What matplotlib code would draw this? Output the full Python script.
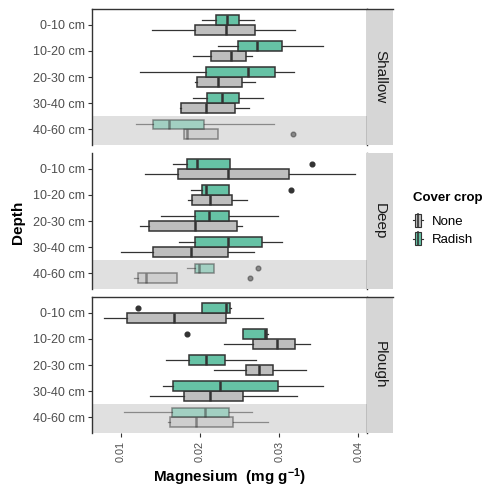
import matplotlib
matplotlib.use('Agg')
import matplotlib.pyplot as plt
from matplotlib.patches import Rectangle
from matplotlib.lines import Line2D
from matplotlib.legend_handler import HandlerBase

plt.rcParams['font.family'] = ['Liberation Sans', 'DejaVu Sans']
plt.rcParams['mathtext.default'] = 'regular'

# ---------------- data ----------------
depths = ['0-10 cm', '10-20 cm', '20-30 cm', '30-40 cm', '40-60 cm']
systems = ['Shallow', 'Deep', 'Plough']
covers = ['None', 'Radish']
x_ticks = [0.01, 0.02, 0.03, 0.04]
x_tick_labels = ['0.01', '0.02', '0.03', '0.04']

# five-number summaries per depth: [whisker low, Q1, median, Q3, whisker high]
shallow_none = [[0.0139, 0.0194, 0.0233, 0.0270, 0.0320],
                [0.0191, 0.0214, 0.0239, 0.0258, 0.0265],
                [0.0194, 0.0196, 0.0223, 0.0253, 0.0269],
                [0.0175, 0.0176, 0.0207, 0.0244, 0.0262],
                [0.0180, 0.0180, 0.0183, 0.0222, 0.0222]]
shallow_radish = [[0.0202, 0.0220, 0.0234, 0.0249, 0.0268],
                  [0.0222, 0.0248, 0.0272, 0.0304, 0.0355],
                  [0.0124, 0.0207, 0.0261, 0.0295, 0.0319],
                  [0.0191, 0.0209, 0.0228, 0.0249, 0.0280],
                  [0.0119, 0.0140, 0.0161, 0.0205, 0.0293]]
deep_none = [[0.0130, 0.0172, 0.0235, 0.0312, 0.0396],
             [0.0185, 0.0190, 0.0213, 0.0240, 0.0259],
             [0.0124, 0.0136, 0.0193, 0.0247, 0.0253],
             [0.0100, 0.0140, 0.0188, 0.0235, 0.0268],
             [0.0116, 0.0121, 0.0131, 0.0171, 0.0171]]
deep_radish = [[0.0166, 0.0184, 0.0196, 0.0238, 0.0238],
               [0.0189, 0.0202, 0.0207, 0.0236, 0.0236],
               [0.0150, 0.0193, 0.0211, 0.0236, 0.0299],
               [0.0173, 0.0194, 0.0235, 0.0278, 0.0304],
               [0.0184, 0.0194, 0.0199, 0.0218, 0.0218]]
plough_none = [[0.0079, 0.0108, 0.0167, 0.0233, 0.0279],
               [0.0230, 0.0267, 0.0297, 0.0320, 0.0339],
               [0.0217, 0.0258, 0.0275, 0.0292, 0.0334],
               [0.0137, 0.0180, 0.0212, 0.0254, 0.0322],
               [0.0159, 0.0162, 0.0195, 0.0241, 0.0286]]
plough_radish = [[0.0203, 0.0203, 0.0233, 0.0238, 0.0239],
                 [0.0254, 0.0254, 0.0282, 0.0285, 0.0286],
                 [0.0157, 0.0186, 0.0207, 0.0231, 0.0271],
                 [0.0153, 0.0166, 0.0225, 0.0298, 0.0356],
                 [0.0104, 0.0164, 0.0206, 0.0236, 0.0265]]

# outliers: (system, cover, depth, value)
outlier_system = ['Shallow', 'Deep', 'Deep', 'Deep', 'Deep', 'Plough', 'Plough']
outlier_cover = ['None', 'Radish', 'Radish', 'Radish', 'None', 'Radish', 'Radish']
outlier_depth = ['40-60 cm', '0-10 cm', '10-20 cm', '40-60 cm', '40-60 cm', '0-10 cm', '10-20 cm']
outlier_value = [0.0318, 0.0342, 0.0315, 0.0273, 0.0263, 0.0122, 0.0183]

summaries = {
    ('Shallow', 'None'): shallow_none, ('Shallow', 'Radish'): shallow_radish,
    ('Deep', 'None'): deep_none, ('Deep', 'Radish'): deep_radish,
    ('Plough', 'None'): plough_none, ('Plough', 'Radish'): plough_radish,
}

# ---------------- styling ----------------
fill_colors = {'None': '#BEBEBE', 'Radish': '#66C2A5'}
offsets = {'Radish': -0.1875, 'None': 0.1875}
edge = '#333333'
highlight_depth = '40-60 cm'

W, H = 489, 491
fig = plt.figure(figsize=(W / 100, H / 100), dpi=100)

panel_left, panel_right = 92, 367
strip_w = 26
panel_tops = [9, 153, 297]
panel_h = 136

for si, system in enumerate(systems):
    top = panel_tops[si]
    ax = fig.add_axes([panel_left / W, 1 - (top + panel_h) / H,
                       (panel_right - panel_left) / W, panel_h / H])
    hi = depths.index(highlight_depth) + 1
    ax.axhspan(hi - 0.5, len(depths) + 0.6, color='#E0E0E0', zorder=0, lw=0)

    for cover in covers:
        summ = summaries[(system, cover)]
        for di, dname in enumerate(depths):
            lo, q1, med, q3, hiw = summ[di]
            fl = [v for s, c, d, v in zip(outlier_system, outlier_cover,
                                          outlier_depth, outlier_value)
                  if s == system and c == cover and d == dname]
            stat = dict(whislo=lo, q1=q1, med=med, q3=q3, whishi=hiw, fliers=fl)
            alpha = 0.5 if dname == highlight_depth else 1.0
            ax.bxp([stat], positions=[di + 1 + offsets[cover]], widths=0.375,
                   orientation='horizontal', patch_artist=True, showcaps=False,
                   boxprops=dict(facecolor=fill_colors[cover], edgecolor=edge,
                                 linewidth=1.1, alpha=alpha),
                   medianprops=dict(color=edge, linewidth=1.8, alpha=alpha),
                   whiskerprops=dict(color=edge, linewidth=0.9, alpha=alpha),
                   flierprops=dict(marker='o', markerfacecolor=edge,
                                   markeredgecolor=edge, markersize=3.4,
                                   alpha=alpha),
                   zorder=3)

    ax.set_xlim(0.00633, 0.0411)
    ax.set_ylim(len(depths) + 0.6, 0.4)
    ax.set_yticks(range(1, len(depths) + 1))
    ax.set_yticklabels(depths)
    ax.tick_params(axis='y', length=3, width=0.8, color=edge,
                   labelsize=9, labelcolor='#4D4D4D', pad=2)
    ax.set_xticks(x_ticks)
    if si == len(systems) - 1:
        ax.set_xticklabels(x_tick_labels, rotation=90)
        ax.tick_params(axis='x', length=3, width=0.8, color=edge,
                       labelsize=7.8, labelcolor='#4D4D4D', pad=3)
    else:
        ax.tick_params(axis='x', length=0, labelbottom=False)
    for side in ['left', 'right', 'top']:
        ax.spines[side].set_color(edge)
        ax.spines[side].set_linewidth(1.0)
    ax.spines['bottom'].set_visible(False)
    if si == 1:
        ax.spines['top'].set_visible(False)
    ax.set_facecolor('white')

    # facet strip
    sax = fig.add_axes([panel_right / W, 1 - (top + panel_h) / H,
                        strip_w / W, panel_h / H])
    sax.set_facecolor('#D6D6D6')
    sax.set_xticks([])
    sax.set_yticks([])
    for side in ['left', 'right', 'bottom']:
        sax.spines[side].set_visible(False)
    sax.spines['top'].set_color(edge)
    sax.spines['top'].set_linewidth(1.0)
    if si == 1:
        sax.spines['top'].set_visible(False)
    sax.text(0.5, 0.5, system, rotation=-90, ha='center', va='center',
             fontsize=11, color='#1A1A1A', transform=sax.transAxes)

# axis titles
fig.text(18 / W, 1 - 222 / H, 'Depth', rotation=90, ha='center', va='center',
         fontsize=11, fontweight='bold')
fig.text((panel_left + panel_right) / 2 / W, 1 - 477 / H,
         'Magnesium  (mg g$^{-1}$)', ha='center', va='center',
         fontsize=11, fontweight='bold')


# legend with boxplot-style keys
class BoxKey(HandlerBase):
    def create_artists(self, legend, orig_handle, xdescent, ydescent,
                       width, height, fontsize, trans):
        bw = width * 0.55
        x0 = -xdescent + (width - bw) / 2
        y0 = -ydescent
        fc = orig_handle.get_facecolor()
        rect = Rectangle((x0, y0), bw, height, facecolor=fc, edgecolor=edge,
                         lw=0.8, transform=trans)
        med = Line2D([x0 + bw / 2] * 2, [y0, y0 + height], color=edge, lw=1.2,
                     transform=trans)
        wl = Line2D([-xdescent, x0], [y0 + height / 2] * 2, color=edge, lw=0.8,
                    transform=trans)
        wr = Line2D([x0 + bw, -xdescent + width], [y0 + height / 2] * 2,
                    color=edge, lw=0.8, transform=trans)
        return [rect, med, wl, wr]


fig.text(413 / W, 1 - 198 / H, 'Cover crop', ha='left', va='center',
         fontsize=9.5, fontweight='bold')
handles = [Rectangle((0, 0), 1, 1, facecolor=fill_colors[c]) for c in covers]
fig.legend(handles, covers, handler_map={Rectangle: BoxKey()},
           loc='upper left', bbox_to_anchor=(413 / W, 1 - 214 / H),
           frameon=False, fontsize=9.5,
           handlelength=0.75, handleheight=1.1,
           handletextpad=0.7, labelspacing=0.35, borderaxespad=0,
           borderpad=0)

fig.savefig('out.png', dpi=100)
